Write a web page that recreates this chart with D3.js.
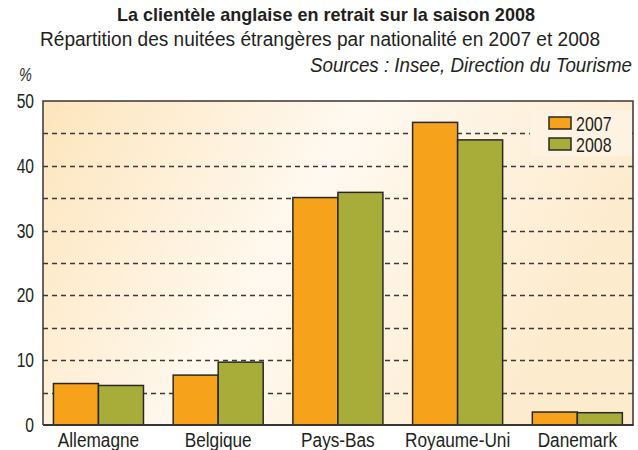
<!DOCTYPE html>
<html>
<head>
<meta charset="utf-8">
<script src="https://cdn.jsdelivr.net/npm/d3@7"></script>
<style>
  body { margin: 0; background: #fff; }
  text { font-family: "Liberation Sans", Arial, sans-serif; fill: #231f20; }
</style>
</head>
<body>
<div id="chart"></div>
<script>
// data
var countries = ["Allemagne", "Belgique", "Pays-Bas", "Royaume-Uni", "Danemark"];
var years = ["2007", "2008"];
var v2007 = [6.4, 7.7, 35.1, 46.7, 2.0];
var v2008 = [6.1, 9.7, 35.9, 44.0, 1.9];
var yTicks = [0, 10, 20, 30, 40, 50];
var gridValues = [5, 10, 15, 20, 25, 30, 35, 40, 45];

var colors = { "2007": "#f7a21b", "2008": "#a8ad3a" };

var w = 638, h = 450;
var svg = d3.select("#chart").append("svg")
    .attr("width", w)
    .attr("height", h);

// frame of the plot (don't call it "top", that one belongs to window)
var pLeft = 43, pRight = 633, pTop = 101, pBottom = 425;

var y = d3.scaleLinear().domain([0, 50]).range([pBottom, pTop]);
var x0 = d3.scaleBand().domain(countries).range([38.6, 637.2]).paddingInner(0.248).paddingOuter(0.124);
var x1 = d3.scaleBand().domain(years).range([0, x0.bandwidth()]);

// the reference uses a condensed face, squeeze ours to look alike
function condense(sel, f) {
    sel.each(function() {
        var len = this.getComputedTextLength();
        d3.select(this).attr("textLength", len * f).attr("lengthAdjust", "spacingAndGlyphs");
    });
}

// background gradient
var defs = svg.append("defs");
var grad = defs.append("linearGradient")
    .attr("id", "bg")
    .attr("x1", "0%").attr("y1", "0%")
    .attr("x2", "100%").attr("y2", "30%");
grad.append("stop").attr("offset", "0%").attr("stop-color", "#fde5bc");
grad.append("stop").attr("offset", "50%").attr("stop-color", "#fff9f0");
grad.append("stop").attr("offset", "100%").attr("stop-color", "#fdebcd");

svg.append("rect")
    .attr("x", pLeft).attr("y", pTop)
    .attr("width", pRight - pLeft).attr("height", pBottom - pTop)
    .attr("fill", "url(#bg)");

// dashed grid lines
svg.selectAll("line.grid")
    .data(gridValues)
    .enter().append("line")
    .attr("class", "grid")
    .attr("x1", pLeft).attr("x2", pRight)
    .attr("y1", function(d) { return Math.round(y(d)) + 0.5; })
    .attr("y2", function(d) { return Math.round(y(d)) + 0.5; })
    .attr("stroke", "#3d3939")
    .attr("stroke-width", 1.4)
    .attr("stroke-dasharray", "5,4");

// legend box hides the grid behind it
svg.append("rect")
    .attr("x", 530).attr("y", 110)
    .attr("width", pRight - 531).attr("height", 46)
    .attr("fill", "#fef3e2");

// bars
var rows = countries.map(function(c, i) {
    return { country: c, values: [{ year: "2007", v: v2007[i] }, { year: "2008", v: v2008[i] }] };
});

var groups = svg.selectAll("g.group")
    .data(rows)
    .enter().append("g")
    .attr("class", "group")
    .attr("transform", function(d) { return "translate(" + x0(d.country) + ",0)"; });

groups.selectAll("rect")
    .data(function(d) { return d.values; })
    .enter().append("rect")
    .attr("x", function(d) { return x1(d.year); })
    .attr("width", x1.bandwidth())
    .attr("y", function(d) { return y(d.v); })
    .attr("height", function(d) { return pBottom - y(d.v); })
    .attr("fill", function(d) { return colors[d.year]; })
    .attr("stroke", "#2b2727")
    .attr("stroke-width", 1.5);

// frame: left, top, right and bottom
svg.append("path")
    .attr("d", "M" + pLeft + "," + pBottom + "V" + pTop + "H" + pRight + "V" + pBottom)
    .attr("fill", "none")
    .attr("stroke", "#3a3535")
    .attr("stroke-width", 1.5);
svg.append("line")
    .attr("x1", pLeft).attr("x2", pRight + 0.75)
    .attr("y1", pBottom).attr("y2", pBottom)
    .attr("stroke", "#3a3535")
    .attr("stroke-width", 2);

// y axis labels
var yAxis = d3.axisLeft(y).tickValues(yTicks).tickSize(0).tickPadding(9);
var gy = svg.append("g").attr("transform", "translate(" + pLeft + ",0)").call(yAxis);
gy.select(".domain").remove();
gy.selectAll("text")
    .style("font-size", "20px")
    .attr("fill", "#231f20")
    .call(condense, 0.78);

// x axis labels
var xAxis = d3.axisBottom(x0).tickSize(0).tickPadding(8);
var gx = svg.append("g").attr("transform", "translate(0," + pBottom + ")").call(xAxis);
gx.select(".domain").remove();
gx.selectAll("text")
    .style("font-size", "20px")
    .attr("fill", "#231f20")
    .call(condense, 0.86);

// legend
var legend = svg.selectAll("g.legend")
    .data(years)
    .enter().append("g")
    .attr("class", "legend")
    .attr("transform", function(d, i) { return "translate(549," + (117 + i * 21) + ")"; });
legend.append("rect")
    .attr("width", 22).attr("height", 12)
    .attr("fill", function(d) { return colors[d]; })
    .attr("stroke", "#2b2727")
    .attr("stroke-width", 1.5);
legend.append("text")
    .attr("x", 27).attr("y", 14)
    .style("font-size", "21px")
    .text(function(d) { return d; })
    .call(condense, 0.76);

// titles
svg.append("text")
    .attr("x", 326).attr("y", 21)
    .attr("text-anchor", "middle")
    .style("font-size", "19px")
    .style("font-weight", "bold")
    .attr("textLength", 418).attr("lengthAdjust", "spacingAndGlyphs")
    .text("La clientèle anglaise en retrait sur la saison 2008");
svg.append("text")
    .attr("x", 320).attr("y", 46)
    .attr("text-anchor", "middle")
    .style("font-size", "19.5px")
    .attr("textLength", 560).attr("lengthAdjust", "spacingAndGlyphs")
    .text("Répartition des nuitées étrangères par nationalité en 2007 et 2008");
svg.append("text")
    .attr("x", 632).attr("y", 72)
    .attr("text-anchor", "end")
    .style("font-size", "19.5px")
    .style("font-style", "italic")
    .attr("textLength", 322).attr("lengthAdjust", "spacingAndGlyphs")
    .text("Sources : Insee, Direction du Tourisme");
svg.append("text")
    .attr("x", 19).attr("y", 81)
    .style("font-size", "18px")
    .style("font-style", "italic")
    .call(function(s) { s.text("%"); })
    .call(condense, 0.8);
</script>
</body>
</html>
